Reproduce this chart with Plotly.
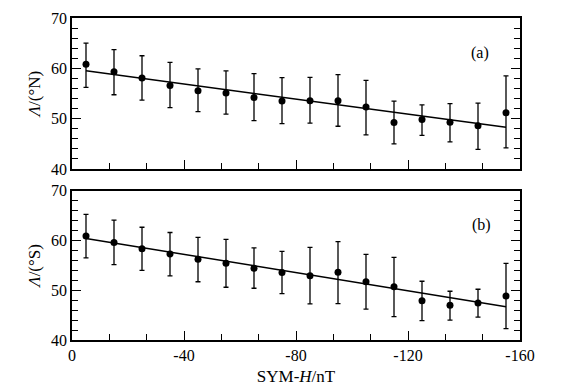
import plotly.graph_objects as go
from plotly.subplots import make_subplots

sym_h = [-5, -15, -25, -35, -45, -55, -65, -75, -85, -95, -105, -115, -125, -135, -145, -155]

lat_n = [60.8, 59.3, 58.1, 56.6, 55.55, 55.1, 54.2, 53.5, 53.55, 53.55, 52.3, 49.25, 49.85, 49.3, 48.6, 51.2]
lat_n_hi = [65.0, 63.7, 62.5, 61.2, 59.9, 59.5, 58.95, 58.15, 58.2, 58.75, 57.6, 53.5, 52.75, 53.0, 53.1, 58.5]
lat_n_lo = [56.2, 54.75, 53.7, 52.2, 51.4, 50.9, 49.6, 49.0, 49.1, 48.5, 46.8, 45.0, 46.7, 45.4, 43.9, 44.2]
fit_n_x = [-5, -155]
fit_n_y = [59.5, 48.3]

lat_s = [60.9, 59.6, 58.35, 57.3, 56.2, 55.4, 54.4, 53.55, 52.9, 53.6, 51.7, 50.7, 47.9, 47.0, 47.45, 48.85]
lat_s_hi = [65.25, 64.1, 62.65, 61.6, 60.6, 60.2, 58.5, 57.8, 58.6, 59.75, 57.2, 56.6, 51.8, 49.8, 50.2, 55.4]
lat_s_lo = [56.5, 55.15, 54.0, 52.9, 51.7, 50.6, 50.4, 49.3, 47.25, 47.3, 46.2, 44.7, 43.9, 44.0, 44.6, 42.3]
fit_s_x = [-5, -155]
fit_s_y = [60.4, 46.7]

x_ticks = [0, -40, -80, -120, -160]
x_tick_text = ["0", "-40", "-80", "-120", "-160"]
y_ticks = [40, 50, 60, 70]

FONT = "Liberation Serif"
fig = make_subplots(rows=2, cols=1, shared_xaxes=True, vertical_spacing=0.0)

def add_panel(row, y, hi, lo, fx, fy):
    fig.add_trace(go.Scatter(
        x=sym_h, y=y, mode="markers",
        marker=dict(color="black", size=7),
        error_y=dict(type="data", symmetric=False,
                     array=[h - v for h, v in zip(hi, y)],
                     arrayminus=[v - l for v, l in zip(y, lo)],
                     color="black", thickness=1.3, width=2.5),
        showlegend=False), row=row, col=1)
    fig.add_trace(go.Scatter(x=fx, y=fy, mode="lines",
                             line=dict(color="black", width=1.5),
                             showlegend=False), row=row, col=1)

add_panel(1, lat_n, lat_n_hi, lat_n_lo, fit_n_x, fit_n_y)
add_panel(2, lat_s, lat_s_hi, lat_s_lo, fit_s_x, fit_s_y)

xcommon = dict(range=[0, -160], tickvals=x_ticks, ticktext=x_tick_text, ticks="inside", ticklen=9,
               tickwidth=1.3, tickcolor="black", showline=True, linecolor="black",
               linewidth=1.5, mirror=True, showgrid=False, zeroline=False, automargin=False,
               minor=dict(dtick=40/3, tick0=0, ticks="inside", ticklen=6,
                          tickwidth=1.3, tickcolor="black", showgrid=False),
               tickfont=dict(family=FONT, size=16, color="black"))
ycommon = dict(range=[40, 70], tickvals=y_ticks, ticks="inside", ticklen=9,
               tickwidth=1.3, tickcolor="black", showline=True, linecolor="black",
               linewidth=1.5, mirror="ticks", showgrid=False, zeroline=False, automargin=False,
               minor=dict(dtick=2, tick0=40, ticks="inside", ticklen=6,
                          tickwidth=1.3, tickcolor="black", showgrid=False),
               tickfont=dict(family=FONT, size=16, color="black"))

fig.update_xaxes(**xcommon)
fig.update_xaxes(showticklabels=False, row=1, col=1)
fig.update_xaxes(title=dict(text="SYM-<i>H</i>/nT", font=dict(family=FONT, size=17, color="black"),
                            standoff=7), row=2, col=1)
fig.update_yaxes(**ycommon)
fig.update_yaxes(domain=[0.531, 1.0], title=dict(text="<i>Λ</i>/(°N)", standoff=6,
                 font=dict(family=FONT, size=17, color="black")), row=1, col=1)
fig.update_yaxes(domain=[0.0, 0.4637], title=dict(text="<i>Λ</i>/(°S)", standoff=6,
                 font=dict(family=FONT, size=17, color="black")), row=2, col=1)

fig.add_annotation(text="(a)", xref="x domain", yref="y domain", x=0.935, y=0.84,
                   showarrow=False, font=dict(family=FONT, size=16, color="black"))
fig.add_annotation(text="(b)", xref="x2 domain", yref="y2 domain", x=0.94, y=0.845,
                   showarrow=False, font=dict(family=FONT, size=16, color="black"))

# page body has an 8px default margin, compensate in figure margins
fig.update_layout(width=568, height=390, margin=dict(l=64, r=56, t=10, b=58),
                  paper_bgcolor="white", plot_bgcolor="white")
fig.write_html("out.html")
